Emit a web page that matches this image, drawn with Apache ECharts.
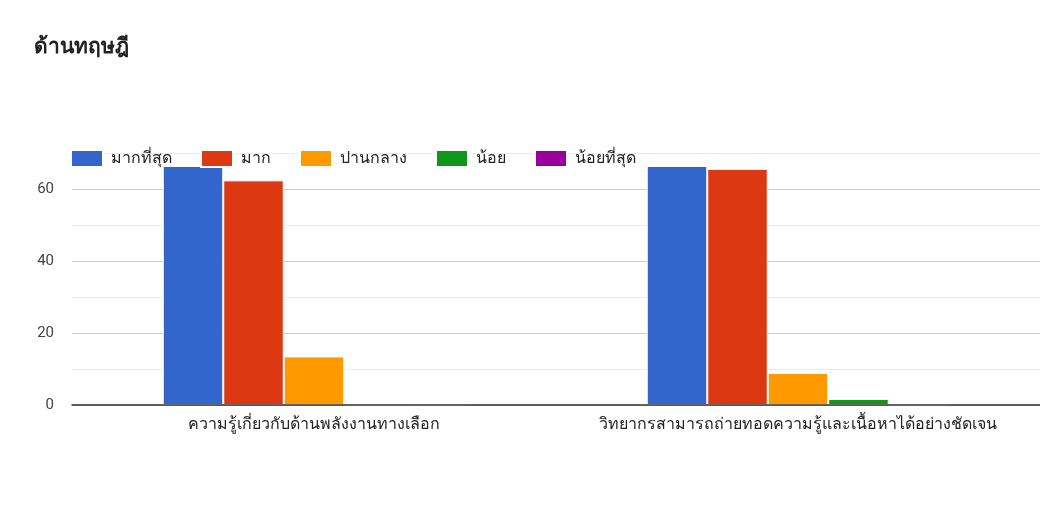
<!DOCTYPE html>
<html><head><meta charset="utf-8">
<script src="https://cdn.jsdelivr.net/npm/echarts@6/dist/echarts.min.js"></script>
<style>html,body{margin:0;padding:0;background:#fff}#c{width:1040px;height:510px}</style>
</head><body><div id="c"></div>
<script>
const categories = ['ความรู้เกี่ยวกับด้านพลังงานทางเลือก', 'วิทยากรสามารถถ่ายทอดความรู้และเนื้อหาได้อย่างชัดเจน'];
const seriesNames = ['มากที่สุด', 'มาก', 'ปานกลาง', 'น้อย', 'น้อยที่สุด'];
const seriesColors = ['#3366cc', '#dc3912', '#ff9900', '#109618', '#990099'];
const vMost = [66.4, 66.4];
const vMuch = [62.4, 65.6];
const vMid = [13.5, 8.9];
const vLittle = [0, 1.7];
const vLeast = [0, 0];
const values = [vMost, vMuch, vMid, vLittle, vLeast];

const font = 'Roboto, "Noto Sans", sans-serif';
const chart = echarts.init(document.getElementById('c'));
chart.setOption({
  animation: false,
  title: { text: 'ด้านทฤษฎี', left: 34, top: 37, padding: 0, textStyle: { fontSize: 21, fontWeight: 'bold', color: '#222', fontFamily: font } },
  legend: {
    left: 70, top: 149, padding: 0, itemWidth: 32, itemHeight: 17, itemGap: 28,
    icon: 'rect',
    textStyle: { fontSize: 16, color: '#222', fontFamily: font, padding: [0, 0, 0, 3] },
    data: seriesNames
  },
  grid: { left: 72, right: 0, top: 153, bottom: 105, containLabel: false },
  xAxis: {
    type: 'category', data: categories, z: 10,
    axisLine: { lineStyle: { color: '#333', width: 1.5 } },
    axisTick: { show: false },
    axisLabel: { interval: 0, fontSize: 16, color: '#222', margin: 12, fontFamily: font }
  },
  yAxis: {
    type: 'value', min: 0, max: 70, interval: 10,
    axisLine: { show: false }, axisTick: { show: false },
    axisLabel: { fontSize: 15, color: '#444', margin: 18, fontFamily: font,
      formatter: v => (v % 20 === 0 ? String(v) : '') },
    splitLine: { lineStyle: { color: ['#cccccc', '#ebebeb'], width: 1 } }
  },
  series: seriesNames.map((n, i) => ({
    name: n, type: 'bar', data: values[i],
    barGap: '0%', barCategoryGap: '37.5%',
    itemStyle: { color: seriesColors[i], borderColor: '#ffffff', borderWidth: 1 }
  }))
});
</script></body></html>
